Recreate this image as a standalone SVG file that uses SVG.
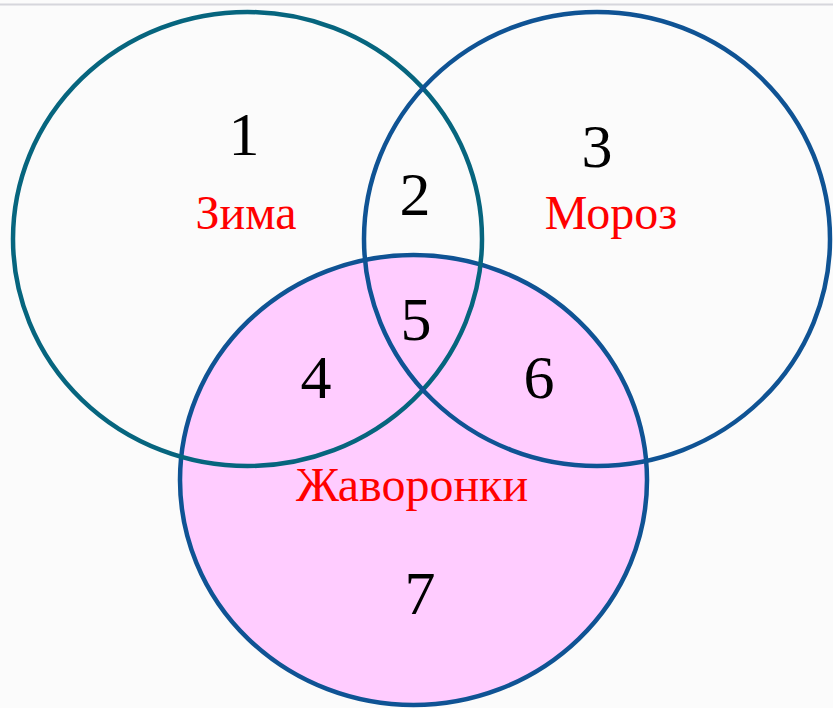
<svg xmlns="http://www.w3.org/2000/svg" width="833" height="708" viewBox="0 0 833 708">
<style>
.num{font-family:"Liberation Serif","Times New Roman",serif;font-size:62px;fill:#000;text-anchor:middle}
.lbl{font-family:"Liberation Serif","Times New Roman",serif;font-size:48px;fill:#ff0000;text-anchor:middle}
.ring{fill:none;stroke-width:4.5}
</style>
<rect width="833" height="708" fill="#fbfbfb"/>
<line x1="0" y1="4.5" x2="833" y2="4.5" stroke="#d6d6dc" stroke-width="2"/>
<g id="zhavoronki-fill">
<ellipse cx="413.5" cy="480" rx="233.5" ry="225" fill="#ffccff"/>
</g>
<g id="connectors"></g>
<g id="zhavoronki">
<ellipse class="ring" cx="413.5" cy="480" rx="233.5" ry="225" stroke="#0f5394"/>
</g>
<g id="zima">
<ellipse class="ring" cx="247.5" cy="239" rx="234.5" ry="227" stroke="#06657e"/>
</g>
<g id="moroz">
<ellipse class="ring" cx="597" cy="239" rx="233" ry="227" stroke="#0f5394"/>
</g>
<g id="labels">
<text class="num" x="244" y="155">1</text>
<text class="num" x="415" y="215">2</text>
<text class="num" x="597" y="167">3</text>
<text class="num" x="416" y="340">5</text>
<text class="num" x="316" y="398">4</text>
<text class="num" x="539" y="398">6</text>
<text class="num" x="420" y="614">7</text>
<text class="lbl" x="246" y="229">Зима</text>
<text class="lbl" x="611" y="229">Мороз</text>
<text class="lbl" x="412" y="501">Жаворонки</text>
</g>
</svg>
